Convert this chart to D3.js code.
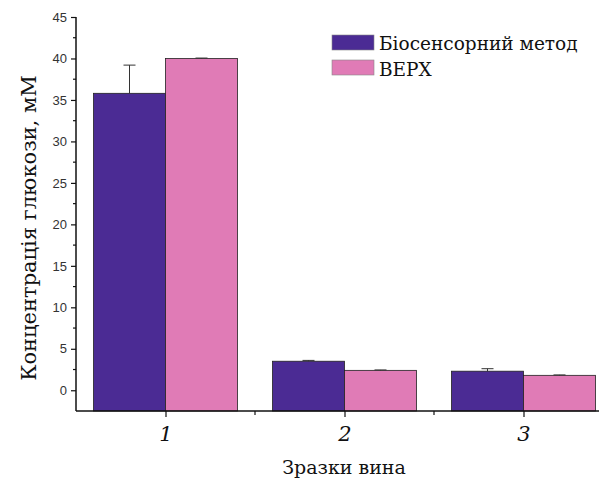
<!DOCTYPE html>
<html>
<head>
<meta charset="utf-8">
<script src="https://cdn.jsdelivr.net/npm/d3@7"></script>
<style>
body { margin: 0; background: #fff; }
</style>
</head>
<body>
<script>
let w = 599
let h = 482

let categories = ["1", "2", "3"]
let series = ["Біосенсорний метод", "ВЕРХ"]
let bioValues = [35.8, 3.5, 2.3]
let bioErrors = [3.4, 0.1, 0.3]
let hplcValues = [40.0, 2.4, 1.8]
let hplcErrors = [0.05, 0.05, 0.05]
let yTicks = [0, 5, 10, 15, 20, 25, 30, 35, 40, 45]
let colors = ["#4b2b94", "#e07bb6"]

let svg = d3.select("body").append("svg")
  .attr("width", w)
  .attr("height", h)

let x = d3.scaleLinear().domain([0.5, 3.5]).range([76, 613])
let y = d3.scaleLinear().domain([-2.5, 45]).range([411, 17])
let bw = 72

let plot = svg.append("g")

let data = []
categories.forEach((c, i)=>{
  data.push({cat: i + 1, s: 0, v: bioValues[i], e: bioErrors[i]})
  data.push({cat: i + 1, s: 1, v: hplcValues[i], e: hplcErrors[i]})
})

plot.selectAll("rect.bar")
  .data(data)
  .enter()
  .append("rect")
  .attr("class", "bar")
  .attr("x", d => d.s === 0 ? x(d.cat) - bw : x(d.cat))
  .attr("y", d => y(d.v))
  .attr("width", bw)
  .attr("height", d => y(-2.5) - y(d.v))
  .attr("fill", d => colors[d.s])
  .attr("stroke", "#222")
  .attr("stroke-width", 0.8)

// error bars (upper only)
let errs = plot.selectAll("g.err")
  .data(data)
  .enter()
  .append("g")
  .attr("class", "err")
errs.append("line")
  .attr("x1", d => d.s === 0 ? x(d.cat) - bw / 2 : x(d.cat) + bw / 2)
  .attr("x2", d => d.s === 0 ? x(d.cat) - bw / 2 : x(d.cat) + bw / 2)
  .attr("y1", d => y(d.v))
  .attr("y2", d => y(d.v + d.e))
  .attr("stroke", "#333")
  .attr("stroke-width", 1)
errs.append("line")
  .attr("x1", d => (d.s === 0 ? x(d.cat) - bw / 2 : x(d.cat) + bw / 2) - 6)
  .attr("x2", d => (d.s === 0 ? x(d.cat) - bw / 2 : x(d.cat) + bw / 2) + 6)
  .attr("y1", d => y(d.v + d.e))
  .attr("y2", d => y(d.v + d.e))
  .attr("stroke", "#333")
  .attr("stroke-width", 1)

// y axis
let yAxis = d3.axisLeft(y).tickValues(yTicks).tickSize(5).tickPadding(4)
let gy = svg.append("g").attr("transform", "translate(76,0)").call(yAxis)
gy.select(".domain").attr("stroke", "#111").attr("stroke-width", 1.5).attr("d", "M0," + y(-2.5) + "V" + y(45))
gy.selectAll("text").attr("font-family", "Liberation Sans, Arial, sans-serif").attr("font-size", 13).attr("fill", "#333")
gy.selectAll(".tick line").attr("stroke", "#111").attr("stroke-width", 1.2)
gy.selectAll("line.minor")
  .data(yTicks.slice(0, -1).map(t => t + 2.5))
  .enter()
  .append("line")
  .attr("class", "minor")
  .attr("x1", -3).attr("x2", 0)
  .attr("y1", d => y(d)).attr("y2", d => y(d))
  .attr("stroke", "#111").attr("stroke-width", 1.2)

// x axis
let xAxis = d3.axisBottom(x).tickValues([1, 2, 3]).tickSize(6).tickPadding(9).tickFormat((d, i) => categories[i])
let gx = svg.append("g").attr("transform", "translate(0," + y(-2.5) + ")").call(xAxis)
gx.select(".domain").attr("stroke", "#111").attr("stroke-width", 1.5).attr("d", "M76,0H599")
gx.selectAll(".tick line").attr("stroke", "#111").attr("stroke-width", 1.2)
gx.selectAll("text").attr("font-family", "DejaVu Serif, serif").attr("font-style", "italic").attr("font-size", 21).attr("fill", "#111")
gx.selectAll("line.minor")
  .data([1.5, 2.5])
  .enter()
  .append("line")
  .attr("class", "minor")
  .attr("x1", d => x(d)).attr("x2", d => x(d))
  .attr("y1", 0).attr("y2", 4)
  .attr("stroke", "#111").attr("stroke-width", 1.2)

// axis titles
svg.append("text")
  .text("Зразки вина")
  .attr("x", 344)
  .attr("y", 474)
  .attr("text-anchor", "middle")
  .attr("font-family", "DejaVu Serif, serif")
  .attr("font-size", 19)
  .attr("fill", "#111")

svg.append("text")
  .text("Концентрація глюкози, мМ")
  .attr("transform", "translate(36,228) rotate(-90)")
  .attr("text-anchor", "middle")
  .attr("font-family", "DejaVu Serif, serif")
  .attr("font-size", 21)
  .attr("fill", "#111")

// legend
let legend = svg.append("g")
series.forEach((s, i)=>{
  legend.append("rect")
    .attr("x", 332)
    .attr("y", 35 + i * 25)
    .attr("width", 42)
    .attr("height", 15)
    .attr("fill", colors[i])
    .attr("stroke", "#888")
    .attr("stroke-width", 0.6)
  legend.append("text")
    .text(s)
    .attr("x", 379)
    .attr("y", 50 + i * 26)
    .attr("font-family", "DejaVu Serif, serif")
    .attr("font-size", 18.5)
    .attr("fill", "#111")
})
</script>
</body>
</html>
